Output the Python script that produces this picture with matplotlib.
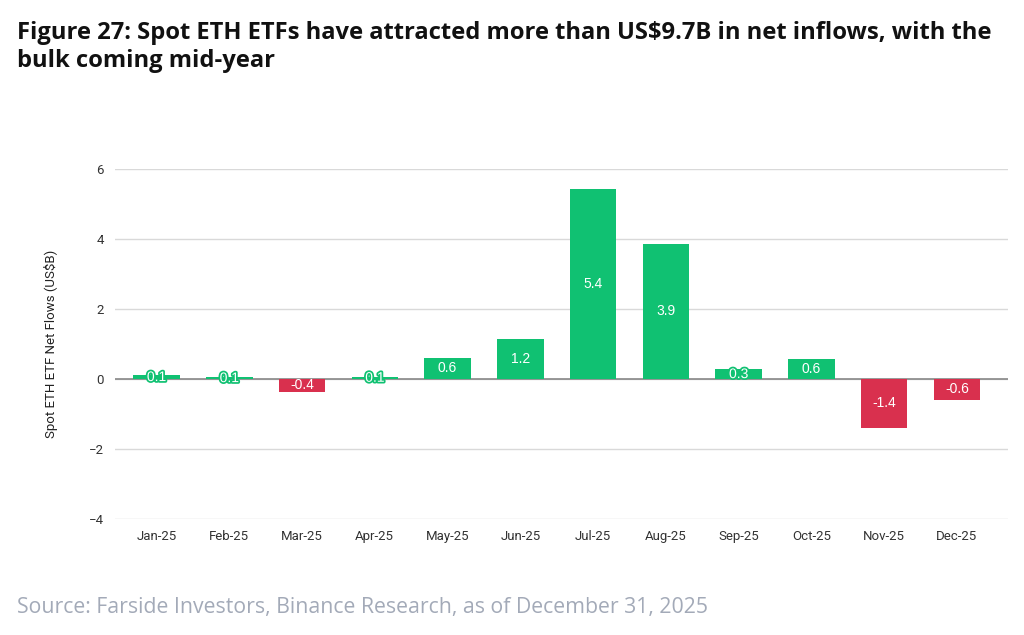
import numpy as np
import matplotlib.pyplot as plt
import matplotlib.patheffects as pe

months = ['Jan-25', 'Feb-25', 'Mar-25', 'Apr-25', 'May-25', 'Jun-25',
          'Jul-25', 'Aug-25', 'Sep-25', 'Oct-25', 'Nov-25', 'Dec-25']
flows = [0.11, 0.05, -0.37, 0.07, 0.6, 1.15, 5.43, 3.86, 0.28, 0.58, -1.4, -0.6]
labels = ['0.1', '0.1', '-0.4', '0.1', '0.6', '1.2', '5.4', '3.9', '0.3', '0.6', '-1.4', '-0.6']

GREEN = '#10C172'
RED = '#D9304E'


def main():
    fig = plt.figure(figsize=(10.24, 6.35), dpi=100)
    ax = fig.add_axes([0.1123, 0.1827, 0.872, 0.5512])

    x = np.arange(len(months))
    colors = [GREEN if v >= 0 else RED for v in flows]
    ax.bar(x, flows, width=0.64, color=colors, zorder=3)

    for xi, v, lab, c in zip(x, flows, labels, colors):
        t = ax.text(xi, v / 2, lab, ha='center', va='center', color='white',
                    fontsize=10, family='Liberation Sans', zorder=4)
        if abs(v) < 0.3 and v > 0:
            t.set_path_effects([pe.withStroke(linewidth=2.5, foreground=c)])

    ax.set_ylim(-4, 6)
    ax.set_xlim(-0.57, 11.70)
    ax.set_yticks([-4, -2, 0, 2, 4, 6])
    ax.set_xticks(x)
    ax.set_xticklabels(months)
    ax.tick_params(axis='both', length=0, labelsize=9.5, colors='#333333', pad=8)
    for lab in ax.get_xticklabels() + ax.get_yticklabels():
        lab.set_family('Roboto')
    ax.grid(axis='y', color='#D9D9D9', linewidth=1, zorder=0)
    ax.axhline(0, color='#888888', linewidth=1.2, zorder=2)
    for s in ax.spines.values():
        s.set_visible(False)
    ax.set_ylabel('Spot ETH ETF Net Flows (US$B)', fontsize=9.5, family='Roboto',
                  color='#222222', labelpad=22)

    fig.text(0.0166, 0.967, 'Figure 27: Spot ETH ETFs have attracted more than US$9.7B in net inflows, with the\nbulk coming mid-year',
             fontsize=17.1, fontweight='bold', family='Open Sans', color='#111111',
             va='top', ha='left', linespacing=1.25)
    fig.text(0.0166, 0.043, 'Source: Farside Investors, Binance Research, as of December 31, 2025',
             fontsize=15.3, family='Open Sans', color='#A3AAB8', va='center', ha='left')

    fig.savefig('out.png', dpi=100)


if __name__ == "__main__":
    main()
